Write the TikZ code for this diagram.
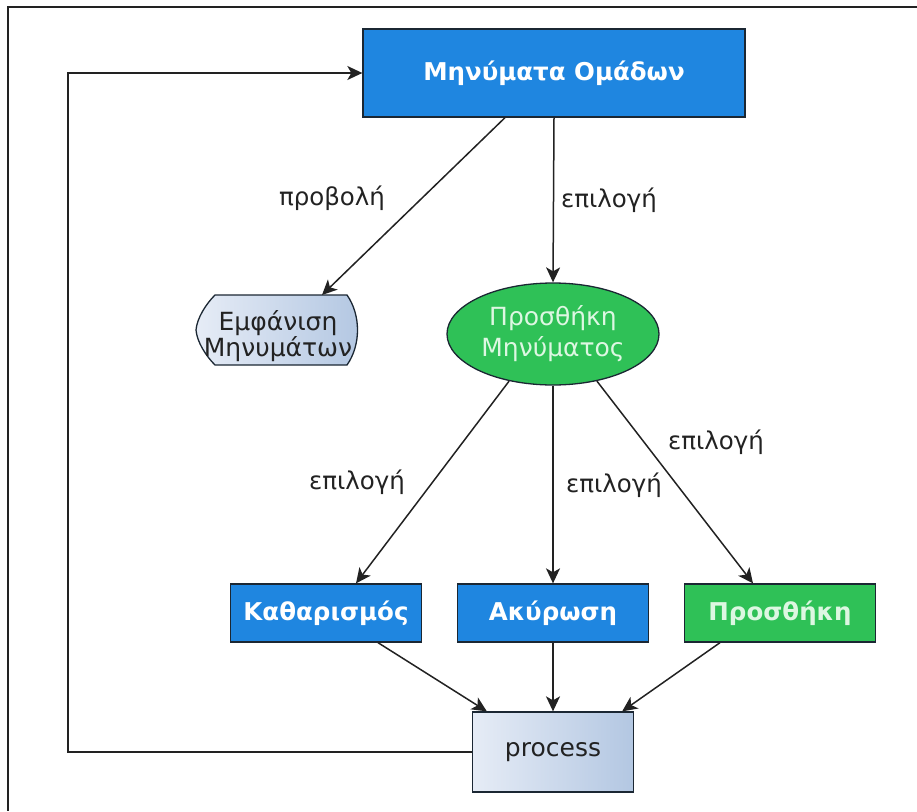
\documentclass[tikz,border=0pt]{standalone}
\usepackage{fontspec}
\setmainfont{DejaVu Sans}
\usepackage{xcolor}
\usepackage{tikz}
\usetikzlibrary{calc,arrows.meta,shapes.geometric}
\definecolor{boxblue}{HTML}{1F86E0}
\definecolor{boxgreen}{HTML}{2FC157}
\definecolor{edge}{HTML}{1B2733}
\definecolor{paleA}{HTML}{E6ECF6}
\definecolor{paleB}{HTML}{B3C7E2}
\definecolor{txtgreen}{HTML}{DDF7E2}
\definecolor{ink}{HTML}{222222}
\tikzset{
  frame/.style={draw=ink, line width=1.5pt},
  conn/.style={draw=ink, line width=1.5pt, -{Stealth[length=15pt,width=14pt,inset=4pt]}},
  bluebox/.style={rectangle, draw=edge, line width=1.3pt, fill=boxblue, text=white,
    font=\bfseries\fontsize{24.5}{28}\selectfont, minimum width=191, minimum height=58},
  greenbox/.style={bluebox, fill=boxgreen, text=txtgreen},
  ellbox/.style={ellipse, draw=edge, line width=1.3pt, fill=boxgreen, text=txtgreen,
    align=center, font=\fontsize{25}{31}\selectfont, minimum width=212, minimum height=102, inner sep=0pt},
  pale/.style={left color=paleA, right color=paleB, draw=edge, line width=1.3pt},
  disptxt/.style={align=center, text=ink, font=\fontsize{25}{26}\selectfont, inner sep=0pt},
  procbox/.style={pale, rectangle, text=ink, font=\fontsize{25}{30}\selectfont, minimum width=161, minimum height=80},
  lab/.style={text=ink, font=\fontsize{24.5}{28}\selectfont},
}
\begin{document}
\begin{tikzpicture}[x=1pt,y=-1pt]
  \useasboundingbox (0,0) rectangle (917,811);
  \draw[frame] (917,7) -- (8,7) -- (8,811);

  % top of the menu
  \node[bluebox, minimum width=382, minimum height=88] (msgs) at (554,73) {Μηνύματα Ομάδων};

  % display shape
  \coordinate (showtop) at (322,295);
  \draw[pale] (215,295) -- (347,295) .. controls (361,315) and (361,345) .. (347,365)
    -- (215,365) .. controls (206,356) and (197,342) .. (196,330)
    .. controls (197,318) and (206,304) .. (215,295) -- cycle;
  \node[disptxt] (show) at (278,336) {Εμφάνιση\\Μηνυμάτων};

  \node[ellbox] (addmsg) at (553,334) {Προσθήκη\\Μηνύματος};

  % actions
  \node[bluebox] (clear) at (326,613) {Καθαρισμός};
  \node[bluebox] (cancel) at (553,613) {Ακύρωση};
  \node[greenbox] (add) at (780,613) {Προσθήκη};
  \node[procbox] (proc) at (553,752) {process};

  % connectors
  \draw[conn] ($(msgs.south)+(-49,0)$) -- (showtop);
  \draw[conn] (msgs.south) -- (addmsg.north);
  \draw[conn] (addmsg.227) -- ($(clear.north)+(30,0)$);
  \draw[conn] (addmsg.south) -- (cancel.north);
  \draw[conn] (addmsg.313) -- ($(add.north)+(-27,0)$);
  \draw[conn] ($(clear.south)+(52,0)$) -- ($(proc.north west)+(15,0)$);
  \draw[conn] (cancel.south) -- (proc.north);
  \draw[conn] ($(add.south)+(-60,0)$) -- ($(proc.north east)+(-12,0)$);
  \coordinate (loop) at (68,752);
  \draw[conn] (proc.west) -- (loop) |- (msgs.west);

  % labels
  \node[lab] (lproj) at (332,198) {προβολή};
  \node[lab] (lsel) at (609,200) {επιλογή};
  \node[lab] (lselc) at (357,482) {επιλογή};
  \node[lab] (lsela) at (614,485) {επιλογή};
  \node[lab] (lseld) at (716,442) {επιλογή};
\end{tikzpicture}
\end{document}
